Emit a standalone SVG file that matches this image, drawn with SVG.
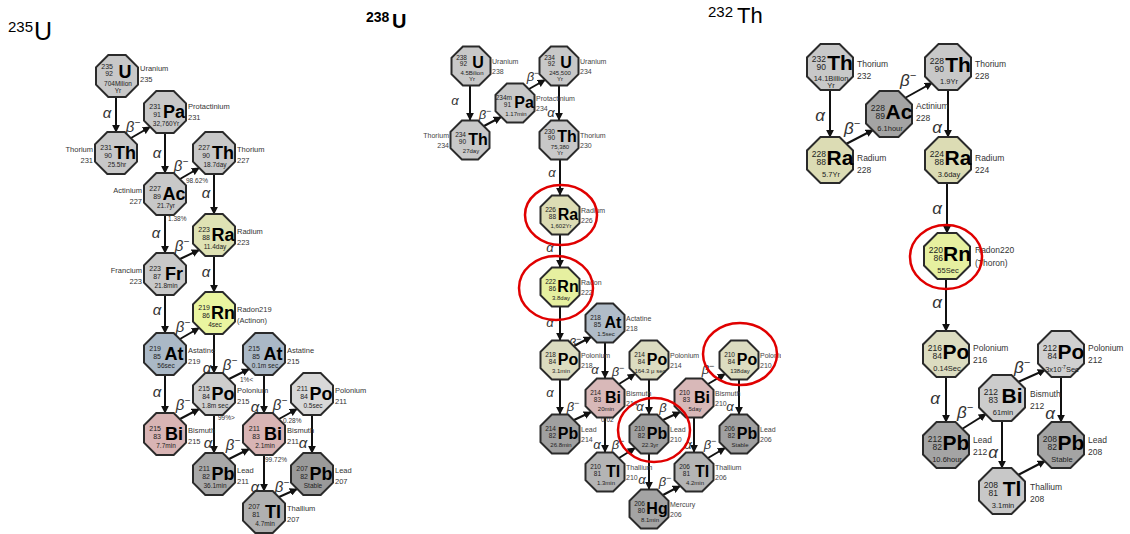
<svg xmlns="http://www.w3.org/2000/svg" width="1130" height="534" viewBox="0 0 1130 534">
<defs>
<style>
text{font-family:"Liberation Sans",Arial,sans-serif}
.m1{font-size:7px;text-anchor:end;fill:#222}
.s1{font-size:18px;font-weight:bold;text-anchor:middle;fill:#000}
.h1{font-size:6.5px;text-anchor:middle;fill:#222}
.l1{font-size:7.5px;fill:#333}
.m2{font-size:6.5px;text-anchor:end;fill:#222}
.s2{font-size:16px;font-weight:bold;text-anchor:middle;fill:#000}
.h2{font-size:6px;text-anchor:middle;fill:#222}
.l2{font-size:7px;fill:#444}
.m3{font-size:8.5px;text-anchor:end;fill:#222}
.s3{font-size:21px;font-weight:bold;text-anchor:middle;fill:#000}
.h3{font-size:7.5px;text-anchor:middle;fill:#222}
.l3{font-size:8.5px;fill:#333}
.e{text-anchor:end}
.g1{font-size:15px;font-style:italic;fill:#333;text-anchor:middle}
.g2{font-size:13px;font-style:italic;fill:#333;text-anchor:middle}
.g3{font-size:17px;font-style:italic;fill:#333;text-anchor:middle}
.p{font-size:6.5px;fill:#333}
.ar{stroke:#111;stroke-width:2;fill:none;marker-end:url(#ah)}
.ring{fill:none;stroke:#e00000;stroke-width:2.5}
</style>
<polygon id="o1" points="-8.7,-21 8.7,-21 21,-8.7 21,8.7 8.7,21 -8.7,21 -21,8.7 -21,-8.7" stroke="#2a2a2a" stroke-width="2"/>
<polygon id="o2" points="-8.1,-19.5 8.1,-19.5 19.5,-8.1 19.5,8.1 8.1,19.5 -8.1,19.5 -19.5,8.1 -19.5,-8.1" stroke="#2a2a2a" stroke-width="2"/>
<polygon id="o3" points="-9.5,-23 9.5,-23 23,-9.5 23,9.5 9.5,23 -9.5,23 -23,9.5 -23,-9.5" stroke="#2a2a2a" stroke-width="2"/>
<marker id="ah" viewBox="0 0 10 10" refX="9" refY="5" markerWidth="4" markerHeight="4" orient="auto"><path d="M0,0L10,5L0,10z" fill="#111"/></marker>
<clipPath id="cp" clipPathUnits="userSpaceOnUse"><rect x="15" y="-12" width="27" height="14"/></clipPath>
</defs>
<rect width="1130" height="534" fill="#fff"/>

<g id="titles">
<text x="8" y="32" font-size="15">235</text><text x="34" y="40" font-size="25">U</text>
<text x="366" y="22" font-size="14" font-weight="bold">238</text><text x="392" y="28" font-size="20" font-weight="bold">U</text>
<text x="708" y="17" font-size="15">232</text><text x="737" y="23" font-size="22">Th</text>
</g>

<g id="connectors">
<line class="ar" x1="116" y1="97" x2="116" y2="132"/>
<line class="ar" x1="131" y1="138" x2="150" y2="127"/>
<line class="ar" x1="165" y1="133" x2="165" y2="173"/>
<line class="ar" x1="180" y1="179" x2="199" y2="168"/>
<line class="ar" x1="214" y1="174" x2="214" y2="214"/>
<line class="ar" x1="165" y1="215" x2="165" y2="253"/>
<line class="ar" x1="180" y1="259" x2="199" y2="250"/>
<line class="ar" x1="214" y1="256" x2="214" y2="292"/>
<line class="ar" x1="165" y1="295" x2="165" y2="333"/>
<line class="ar" x1="180" y1="339" x2="199" y2="328"/>
<line class="ar" x1="214" y1="334" x2="214" y2="373"/>
<line class="ar" x1="229" y1="379" x2="249" y2="369"/>
<line class="ar" x1="165" y1="375" x2="165" y2="413"/>
<line class="ar" x1="180" y1="419" x2="199" y2="409"/>
<line class="ar" x1="214" y1="415" x2="214" y2="453"/>
<line class="ar" x1="264" y1="375" x2="264" y2="413"/>
<line class="ar" x1="279" y1="419" x2="297" y2="409"/>
<line class="ar" x1="229" y1="459" x2="249" y2="449"/>
<line class="ar" x1="312" y1="415" x2="312" y2="453"/>
<line class="ar" x1="264" y1="455" x2="264" y2="491"/>
<line class="ar" x1="279" y1="497" x2="297" y2="489"/>
<text class="g1" x="107" y="118">α</text>
<text class="g1" x="157" y="158">α</text>
<text class="g1" x="206" y="198">α</text>
<text class="g1" x="156" y="238">α</text>
<text class="g1" x="206" y="277">α</text>
<text class="g1" x="157" y="315">α</text>
<text class="g1" x="207" y="373">α</text>
<text class="g1" x="157" y="397">α</text>
<text class="g1" x="255" y="412">α</text>
<text class="g1" x="208" y="448">α</text>
<text class="g1" x="303" y="448">α</text>
<text class="g1" x="255" y="492">α</text>
<text class="g1" x="133" y="132">β<tspan dy="-6" font-size="10">−</tspan></text>
<text class="g1" x="181" y="171">β<tspan dy="-6" font-size="10">−</tspan></text>
<text class="g1" x="182" y="251">β<tspan dy="-6" font-size="10">−</tspan></text>
<text class="g1" x="183" y="332">β<tspan dy="-6" font-size="10">−</tspan></text>
<text class="g1" x="230" y="370">β<tspan dy="-6" font-size="10">−</tspan></text>
<text class="g1" x="183" y="410">β<tspan dy="-6" font-size="10">−</tspan></text>
<text class="g1" x="280" y="410">β<tspan dy="-6" font-size="10">−</tspan></text>
<text class="g1" x="233" y="450">β<tspan dy="-6" font-size="10">−</tspan></text>
<text class="g1" x="282" y="492">β<tspan dy="-6" font-size="10">−</tspan></text>
<text class="p" x="186" y="183">98.62%</text>
<text class="p" x="168" y="221">1.38%</text>
<text class="p" x="240" y="382">1%&lt;</text>
<text class="p" x="218" y="420">99%&gt;</text>
<text class="p" x="283" y="423">0.28%</text>
<text class="p" x="265" y="462">99.72%</text>

<line class="ar" x1="470" y1="86" x2="470" y2="120"/>
<line class="ar" x1="484" y1="126" x2="501" y2="117"/>
<line class="ar" x1="529" y1="89" x2="545" y2="80"/>
<line class="ar" x1="559" y1="86" x2="559" y2="120"/>
<line class="ar" x1="560" y1="160" x2="560" y2="195"/>
<line class="ar" x1="560" y1="235" x2="560" y2="267"/>
<line class="ar" x1="560" y1="307" x2="560" y2="340"/>
<line class="ar" x1="574" y1="346" x2="591" y2="337"/>
<line class="ar" x1="560" y1="380" x2="560" y2="414"/>
<line class="ar" x1="605" y1="343" x2="605" y2="378"/>
<line class="ar" x1="574" y1="420" x2="591" y2="412"/>
<line class="ar" x1="619" y1="384" x2="635" y2="374"/>
<line class="ar" x1="605" y1="418" x2="605" y2="452"/>
<line class="ar" x1="649" y1="380" x2="649" y2="414"/>
<line class="ar" x1="619" y1="458" x2="635" y2="448"/>
<line class="ar" x1="663" y1="420" x2="680" y2="412"/>
<line class="ar" x1="649" y1="454" x2="649" y2="489"/>
<line class="ar" x1="663" y1="495" x2="680" y2="486"/>
<line class="ar" x1="708" y1="384" x2="725" y2="374"/>
<line class="ar" x1="694" y1="418" x2="694" y2="452"/>
<line class="ar" x1="739" y1="380" x2="739" y2="414"/>
<line class="ar" x1="708" y1="458" x2="725" y2="448"/>
<text class="g2" x="455" y="105">α</text>
<text class="g2" x="551" y="117">α</text>
<text class="g2" x="552" y="177">α</text>
<text class="g2" x="550" y="252">α</text>
<text class="g2" x="550" y="327">α</text>
<text class="g2" x="550" y="397">α</text>
<text class="g2" x="595" y="374">α</text>
<text class="g2" x="597" y="449">α</text>
<text class="g2" x="640" y="411">α</text>
<text class="g2" x="642" y="484">α</text>
<text class="g2" x="688" y="449">α</text>
<text class="g2" x="730" y="411">α</text>
<text class="g2" x="485" y="119">β<tspan dy="-5" font-size="9">−</tspan></text>
<text class="g2" x="533" y="81">β<tspan dy="-5" font-size="9">−</tspan></text>
<text class="g2" x="575" y="347">β<tspan dy="-5" font-size="9">−</tspan></text>
<text class="g2" x="573" y="411">β<tspan dy="-5" font-size="9">−</tspan></text>
<text class="g2" x="618" y="376">β<tspan dy="-5" font-size="9">−</tspan></text>
<text class="g2" x="618" y="449">β<tspan dy="-5" font-size="9">−</tspan></text>
<text class="g2" x="663" y="412">β</text>
<text class="g2" x="665" y="486">β<tspan dy="-5" font-size="9">−</tspan></text>
<text class="g2" x="708" y="374">β<tspan dy="-5" font-size="9">−</tspan></text>
<text class="g2" x="710" y="449">β<tspan dy="-5" font-size="9">−</tspan></text>
<text class="p" x="601" y="422">0.02</text>

<line class="ar" x1="830" y1="90" x2="830" y2="137"/>
<line class="ar" x1="846" y1="144" x2="873" y2="130"/>
<line class="ar" x1="905" y1="98" x2="932" y2="83"/>
<line class="ar" x1="948" y1="90" x2="948" y2="137"/>
<line class="ar" x1="947" y1="183" x2="947" y2="233"/>
<line class="ar" x1="946" y1="279" x2="946" y2="331"/>
<line class="ar" x1="946" y1="377" x2="946" y2="422"/>
<line class="ar" x1="962" y1="429" x2="986" y2="414"/>
<line class="ar" x1="1018" y1="382" x2="1045" y2="370"/>
<line class="ar" x1="1061" y1="377" x2="1061" y2="422"/>
<line class="ar" x1="1002" y1="421" x2="1002" y2="468"/>
<line class="ar" x1="1018" y1="475" x2="1045" y2="461"/>
<text class="g3" x="820" y="121">α</text>
<text class="g3" x="937" y="133">α</text>
<text class="g3" x="937" y="214">α</text>
<text class="g3" x="937" y="308">α</text>
<text class="g3" x="935" y="404">α</text>
<text class="g3" x="1050" y="419">α</text>
<text class="g3" x="993" y="458">α</text>
<text class="g3" x="852" y="134">β<tspan dy="-7" font-size="11">−</tspan></text>
<text class="g3" x="908" y="86">β<tspan dy="-7" font-size="11">−</tspan></text>
<text class="g3" x="965" y="418">β<tspan dy="-7" font-size="11">−</tspan></text>
<text class="g3" x="1022" y="373">β<tspan dy="-7" font-size="11">−</tspan></text>
</g>

<g id="u235" transform="translate(117,76)"><use href="#o1" fill="#c8c8c8"/><text class="m1" x="-4" y="-7">235</text><text class="m1" x="-4" y="0">92</text><text class="s1" x="8" y="2">U</text><text class="h1" x="1" y="10">704Milion</text><text class="h1" x="1" y="17">Yr</text><text class="l1" x="23" y="-5">Uranium</text><text class="l1" x="23" y="6">235</text></g>
<g id="pa231" transform="translate(165,112)"><use href="#o1" fill="#c8c8c8"/><text class="m1" x="-4" y="-3">231</text><text class="m1" x="-4" y="5">91</text><text class="s1" x="9" y="6">Pa</text><text class="h1" x="1" y="14">32,760Yr</text><text class="l1" x="23" y="-3">Protactinium</text><text class="l1" x="23" y="8">231</text></g>
<g id="th231" transform="translate(116,153)"><use href="#o1" fill="#c8c8c8"/><text class="m1" x="-4" y="-3">231</text><text class="m1" x="-4" y="5">90</text><text class="s1" x="9" y="6">Th</text><text class="h1" x="1" y="14">25.5hr</text><text class="l1 e" x="-23" y="-1">Thorium</text><text class="l1 e" x="-23" y="10">231</text></g>
<g id="th227" transform="translate(214,153)"><use href="#o1" fill="#c8c8c8"/><text class="m1" x="-4" y="-3">227</text><text class="m1" x="-4" y="5">90</text><text class="s1" x="9" y="6">Th</text><text class="h1" x="1" y="14">18.7day</text><text class="l1" x="23" y="-1">Thorium</text><text class="l1" x="23" y="10">227</text></g>
<g id="ac227" transform="translate(165,194)"><use href="#o1" fill="#c8c8c8"/><text class="m1" x="-4" y="-3">227</text><text class="m1" x="-4" y="5">89</text><text class="s1" x="9" y="6">Ac</text><text class="h1" x="1" y="14">21.7yr</text><text class="l1 e" x="-23" y="-1">Actinium</text><text class="l1 e" x="-23" y="10">227</text></g>
<g id="ra223" transform="translate(214,235)"><use href="#o1" fill="#dfe2b4"/><text class="m1" x="-4" y="-3">223</text><text class="m1" x="-4" y="5">88</text><text class="s1" x="9" y="6">Ra</text><text class="h1" x="1" y="14">11.4day</text><text class="l1" x="23" y="-1">Radium</text><text class="l1" x="23" y="10">223</text></g>
<g id="fr223" transform="translate(165,274)"><use href="#o1" fill="#c8c8c8"/><text class="m1" x="-4" y="-3">223</text><text class="m1" x="-4" y="5">87</text><text class="s1" x="9" y="6">Fr</text><text class="h1" x="1" y="14">21.8min</text><text class="l1 e" x="-23" y="-1">Francium</text><text class="l1 e" x="-23" y="10">223</text></g>
<g id="rn219" transform="translate(214,313)"><use href="#o1" fill="#eaf5a0"/><text class="m1" x="-4" y="-3">219</text><text class="m1" x="-4" y="5">86</text><text class="s1" x="9" y="6">Rn</text><text class="h1" x="1" y="14">4sec</text><text class="l1" x="23" y="-1">Radon219</text><text class="l1" x="23" y="10">(Actinon)</text></g>
<g id="at219" transform="translate(165,354)"><use href="#o1" fill="#aab8c6"/><text class="m1" x="-4" y="-3">219</text><text class="m1" x="-4" y="5">85</text><text class="s1" x="9" y="6">At</text><text class="h1" x="1" y="14">56sec</text><text class="l1" x="23" y="-1">Astatine</text><text class="l1" x="23" y="10">219</text></g>
<g id="at215" transform="translate(264,354)"><use href="#o1" fill="#aab8c6"/><text class="m1" x="-4" y="-3">215</text><text class="m1" x="-4" y="5">85</text><text class="s1" x="9" y="6">At</text><text class="h1" x="1" y="14">0.1m sec</text><text class="l1" x="23" y="-1">Astatine</text><text class="l1" x="23" y="10">215</text></g>
<g id="po215" transform="translate(214,394)"><use href="#o1" fill="#cdcdcd"/><text class="m1" x="-4" y="-3">215</text><text class="m1" x="-4" y="5">84</text><text class="s1" x="9" y="6">Po</text><text class="h1" x="1" y="14">1.8m sec</text><text class="l1" x="23" y="-1">Polonium</text><text class="l1" x="23" y="10">215</text></g>
<g id="po211" transform="translate(312,394)"><use href="#o1" fill="#d8d8d8"/><text class="m1" x="-4" y="-3">211</text><text class="m1" x="-4" y="5">84</text><text class="s1" x="9" y="6">Po</text><text class="h1" x="1" y="14">0.5sec</text><text class="l1" x="23" y="-1">Polonium</text><text class="l1" x="23" y="10">211</text></g>
<g id="bi215" transform="translate(165,434)"><use href="#o1" fill="#d8b4b4"/><text class="m1" x="-4" y="-3">215</text><text class="m1" x="-4" y="5">83</text><text class="s1" x="9" y="6">Bi</text><text class="h1" x="1" y="14">7.7min</text><text class="l1" x="23" y="-1">Bismuth</text><text class="l1" x="23" y="10">215</text></g>
<g id="bi211" transform="translate(264,434)"><use href="#o1" fill="#d8b4b4"/><text class="m1" x="-4" y="-3">211</text><text class="m1" x="-4" y="5">83</text><text class="s1" x="9" y="6">Bi</text><text class="h1" x="1" y="14">2.1min</text><text class="l1" x="23" y="-1">Bismuth</text><text class="l1" x="23" y="10">211</text></g>
<g id="pb211" transform="translate(214,474)"><use href="#o1" fill="#a8a8a8"/><text class="m1" x="-4" y="-3">211</text><text class="m1" x="-4" y="5">82</text><text class="s1" x="9" y="6">Pb</text><text class="h1" x="1" y="14">36.1min</text><text class="l1" x="23" y="-1">Lead</text><text class="l1" x="23" y="10">211</text></g>
<g id="pb207" transform="translate(312,474)"><use href="#o1" fill="#9a9a9a"/><text class="m1" x="-4" y="-3">207</text><text class="m1" x="-4" y="5">82</text><text class="s1" x="9" y="6">Pb</text><text class="h1" x="1" y="14">Stable</text><text class="l1" x="23" y="-1">Lead</text><text class="l1" x="23" y="10">207</text></g>
<g id="tl207" transform="translate(264,512)"><use href="#o1" fill="#b0b0b0"/><text class="m1" x="-4" y="-3">207</text><text class="m1" x="-4" y="5">81</text><text class="s1" x="9" y="6">Tl</text><text class="h1" x="1" y="14">4.7min</text><text class="l1" x="23" y="-1">Thallium</text><text class="l1" x="23" y="10">207</text></g>

<g id="u238" transform="translate(471,66)"><use href="#o2" fill="#c8c8c8"/><text class="m2" x="-4" y="-6">238</text><text class="m2" x="-4" y="0">92</text><text class="s2" x="7" y="2">U</text><text class="h2" x="1" y="9">4.5Bilion</text><text class="h2" x="1" y="15">Yr</text><text class="l2" x="21" y="-2">Uranium</text><text class="l2" x="21" y="8">238</text></g>
<g id="pa234" transform="translate(515,103)"><use href="#o2" fill="#c8c8c8"/><text class="m2" x="-3" y="-3">234m</text><text class="m2" x="-4" y="4">91</text><text class="s2" x="9" y="5">Pa</text><text class="h2" x="1" y="13">1.17min</text><text class="l2" x="21" y="-2">Protactinium</text><text class="l2" x="21" y="8">234</text></g>
<g id="u234" transform="translate(559,66)"><use href="#o2" fill="#c8c8c8"/><text class="m2" x="-4" y="-6">234</text><text class="m2" x="-4" y="0">92</text><text class="s2" x="7" y="2">U</text><text class="h2" x="1" y="9">245,500</text><text class="h2" x="1" y="15">Yr</text><text class="l2" x="21" y="-2">Uranium</text><text class="l2" x="21" y="8">234</text></g>
<g id="th234" transform="translate(470,140)"><use href="#o2" fill="#c8c8c8"/><text class="m2" x="-4" y="-3">234</text><text class="m2" x="-4" y="4">90</text><text class="s2" x="8" y="5">Th</text><text class="h2" x="1" y="13">27day</text><text class="l2 e" x="-21" y="-2">Thorium</text><text class="l2 e" x="-21" y="8">234</text></g>
<g id="th230" transform="translate(559,140)"><use href="#o2" fill="#c8c8c8"/><text class="m2" x="-4" y="-6">230</text><text class="m2" x="-4" y="0">90</text><text class="s2" x="8" y="2">Th</text><text class="h2" x="1" y="9">75,380</text><text class="h2" x="1" y="15">Yr</text><text class="l2" x="21" y="-2">Thorium</text><text class="l2" x="21" y="8">230</text></g>
<g id="ra226" transform="translate(560,215)"><use href="#o2" fill="#dcdcb4"/><text class="m2" x="-4" y="-3">226</text><text class="m2" x="-4" y="4">88</text><text class="s2" x="8" y="5">Ra</text><text class="h2" x="1" y="13">1,602Yr</text><text class="l2" x="21" y="-2">Radium</text><text class="l2" x="21" y="8">226</text></g>
<g id="rn222" transform="translate(560,287)"><use href="#o2" fill="#e6f0a0"/><text class="m2" x="-4" y="-3">222</text><text class="m2" x="-4" y="4">86</text><text class="s2" x="8" y="5">Rn</text><text class="h2" x="1" y="13">3.8day</text><text class="l2" x="21" y="-2">Radon</text><text class="l2" x="21" y="8">222</text></g>
<g id="at218" transform="translate(605,323)"><use href="#o2" fill="#b0bcc8"/><text class="m2" x="-4" y="-3">218</text><text class="m2" x="-4" y="4">85</text><text class="s2" x="8" y="5">At</text><text class="h2" x="1" y="13">1.5sec</text><text class="l2" x="21" y="-2">Actatine</text><text class="l2" x="21" y="8">218</text></g>
<g id="po218" transform="translate(560,360)"><use href="#o2" fill="#dcdcc0"/><text class="m2" x="-4" y="-3">218</text><text class="m2" x="-4" y="4">84</text><text class="s2" x="8" y="5">Po</text><text class="h2" x="1" y="13">3.1min</text><text class="l2" x="21" y="-2">Polonium</text><text class="l2" x="21" y="8">218</text></g>
<g id="po214" transform="translate(649,360)"><use href="#o2" fill="#dcdcc0"/><text class="m2" x="-4" y="-3">214</text><text class="m2" x="-4" y="4">84</text><text class="s2" x="8" y="5">Po</text><text class="h2" x="1" y="13">164.3 μ sec</text><text class="l2" x="21" y="-2">Polonium</text><text class="l2" x="21" y="8">214</text></g>
<g id="po210" transform="translate(739,360)"><use href="#o2" fill="#dcdcc0"/><text class="m2" x="-4" y="-3">210</text><text class="m2" x="-4" y="4">84</text><text class="s2" x="8" y="5">Po</text><text class="h2" x="1" y="13">138day</text><text class="l2" x="21" y="-2" clip-path="url(#cp)">Polonium</text><text class="l2" x="21" y="8">210</text></g>
<g id="bi214" transform="translate(605,398)"><use href="#o2" fill="#d8b8b8"/><text class="m2" x="-4" y="-3">214</text><text class="m2" x="-4" y="4">83</text><text class="s2" x="8" y="5">Bi</text><text class="h2" x="1" y="13">20min</text><text class="l2" x="21" y="-2">Bismuth</text><text class="l2" x="21" y="8">214</text></g>
<g id="bi210" transform="translate(694,398)"><use href="#o2" fill="#d8b8b8"/><text class="m2" x="-4" y="-3">210</text><text class="m2" x="-4" y="4">83</text><text class="s2" x="8" y="5">Bi</text><text class="h2" x="1" y="13">5day</text><text class="l2" x="21" y="-2">Bismuth</text><text class="l2" x="21" y="8">210</text></g>
<g id="pb214" transform="translate(560,434)"><use href="#o2" fill="#a0a0a0"/><text class="m2" x="-4" y="-3">214</text><text class="m2" x="-4" y="4">82</text><text class="s2" x="8" y="5">Pb</text><text class="h2" x="1" y="13">26.8min</text><text class="l2" x="21" y="-2">Lead</text><text class="l2" x="21" y="8">214</text></g>
<g id="pb210" transform="translate(649,434)"><use href="#o2" fill="#a0a0a0"/><text class="m2" x="-4" y="-3">210</text><text class="m2" x="-4" y="4">82</text><text class="s2" x="8" y="5">Pb</text><text class="h2" x="1" y="13">22.3yr</text><text class="l2" x="21" y="-2">Lead</text><text class="l2" x="21" y="8">210</text></g>
<g id="pb206" transform="translate(739,434)"><use href="#o2" fill="#a0a0a0"/><text class="m2" x="-4" y="-3">206</text><text class="m2" x="-4" y="4">82</text><text class="s2" x="8" y="5">Pb</text><text class="h2" x="1" y="13">Stable</text><text class="l2" x="21" y="-2">Lead</text><text class="l2" x="21" y="8">206</text></g>
<g id="tl210" transform="translate(605,472)"><use href="#o2" fill="#b4b4b4"/><text class="m2" x="-4" y="-3">210</text><text class="m2" x="-4" y="4">81</text><text class="s2" x="8" y="5">Tl</text><text class="h2" x="1" y="13">1.3min</text><text class="l2" x="21" y="-2">Thallium</text><text class="l2" x="21" y="8">210</text></g>
<g id="tl206" transform="translate(694,472)"><use href="#o2" fill="#b4b4b4"/><text class="m2" x="-4" y="-3">206</text><text class="m2" x="-4" y="4">81</text><text class="s2" x="8" y="5">Tl</text><text class="h2" x="1" y="13">4.2min</text><text class="l2" x="21" y="-2">Thallium</text><text class="l2" x="21" y="8">206</text></g>
<g id="hg206" transform="translate(649,509)"><use href="#o2" fill="#a4a4a4"/><text class="m2" x="-4" y="-3">206</text><text class="m2" x="-4" y="4">80</text><text class="s2" x="8" y="5">Hg</text><text class="h2" x="1" y="13">8.1min</text><text class="l2" x="21" y="-2">Mercury</text><text class="l2" x="21" y="8">206</text></g>

<g id="th232" transform="translate(830,67)"><use href="#o3" fill="#c8c8c8"/><text class="m3" x="-4" y="-5">232</text><text class="m3" x="-4" y="3">90</text><text class="s3" x="10" y="3">Th</text><text class="h3" x="1" y="14">14.1Billion</text><text class="h3" x="1" y="21">Yr</text><text class="l3" x="27" y="0">Thorium</text><text class="l3" x="27" y="12">232</text></g>
<g id="ac228" transform="translate(889,114)"><use href="#o3" fill="#a4a4a4"/><text class="m3" x="-4" y="-3">228</text><text class="m3" x="-4" y="5">89</text><text class="s3" x="10" y="5">Ac</text><text class="h3" x="1" y="17">6.1hour</text><text class="l3" x="27" y="-5">Actinium</text><text class="l3" x="27" y="7">228</text></g>
<g id="th228" transform="translate(948,67)"><use href="#o3" fill="#c8c8c8"/><text class="m3" x="-4" y="-3">228</text><text class="m3" x="-4" y="5">90</text><text class="s3" x="10" y="5">Th</text><text class="h3" x="1" y="17">1.9Yr</text><text class="l3" x="27" y="0">Thorium</text><text class="l3" x="27" y="12">228</text></g>
<g id="ra228" transform="translate(830,160)"><use href="#o3" fill="#dcdcb4"/><text class="m3" x="-4" y="-3">228</text><text class="m3" x="-4" y="5">88</text><text class="s3" x="10" y="5">Ra</text><text class="h3" x="1" y="17">5.7Yr</text><text class="l3" x="27" y="1">Radium</text><text class="l3" x="27" y="13">228</text></g>
<g id="ra224" transform="translate(948,160)"><use href="#o3" fill="#dcdcb4"/><text class="m3" x="-4" y="-3">224</text><text class="m3" x="-4" y="5">88</text><text class="s3" x="10" y="5">Ra</text><text class="h3" x="1" y="17">3.6day</text><text class="l3" x="27" y="1">Radium</text><text class="l3" x="27" y="13">224</text></g>
<g id="rn220" transform="translate(947,256)"><use href="#o3" fill="#e6f0a0"/><text class="m3" x="-4" y="-3">220</text><text class="m3" x="-4" y="5">86</text><text class="s3" x="10" y="5">Rn</text><text class="h3" x="1" y="17">55Sec</text><text class="l3" x="28" y="-3">Radon220</text><text class="l3" x="28" y="10">(Thoron)</text></g>
<g id="po216" transform="translate(946,354)"><use href="#o3" fill="#dcdcc0"/><text class="m3" x="-4" y="-3">216</text><text class="m3" x="-4" y="5">84</text><text class="s3" x="10" y="5">Po</text><text class="h3" x="1" y="17">0.14Sec</text><text class="l3" x="27" y="-3">Polonium</text><text class="l3" x="27" y="9">216</text></g>
<g id="po212" transform="translate(1061,354)"><use href="#o3" fill="#d0d0d0"/><text class="m3" x="-4" y="-3">212</text><text class="m3" x="-4" y="5">84</text><text class="s3" x="10" y="5">Po</text><text class="h3" x="1" y="17.5">3x10<tspan font-size="5" dy="-2.5">-7</tspan><tspan dy="2.5">Sec</tspan></text><text class="l3" x="27" y="-3">Polonium</text><text class="l3" x="27" y="9">212</text></g>
<g id="bi212" transform="translate(1002,398)"><use href="#o3" fill="#cccccc"/><text class="m3" x="-4" y="-3">212</text><text class="m3" x="-4" y="5">83</text><text class="s3" x="10" y="5">Bi</text><text class="h3" x="1" y="17">61min</text><text class="l3" x="28" y="-1">Bismuth</text><text class="l3" x="28" y="11">212</text></g>
<g id="pb212" transform="translate(946,445)"><use href="#o3" fill="#a4a4a4"/><text class="m3" x="-4" y="-3">212</text><text class="m3" x="-4" y="5">82</text><text class="s3" x="10" y="5">Pb</text><text class="h3" x="1" y="17">10.6hour</text><text class="l3" x="27" y="-2">Lead</text><text class="l3" x="27" y="10">212</text></g>
<g id="pb208" transform="translate(1061,445)"><use href="#o3" fill="#a4a4a4"/><text class="m3" x="-4" y="-3">208</text><text class="m3" x="-4" y="5">82</text><text class="s3" x="10" y="5">Pb</text><text class="h3" x="1" y="17">Stable</text><text class="l3" x="27" y="-2">Lead</text><text class="l3" x="27" y="10">208</text></g>
<g id="tl208" transform="translate(1002,491)"><use href="#o3" fill="#c8c8c8"/><text class="m3" x="-4" y="-3">208</text><text class="m3" x="-4" y="5">81</text><text class="s3" x="10" y="5">Tl</text><text class="h3" x="1" y="17">3.1min</text><text class="l3" x="28" y="-1">Thallium</text><text class="l3" x="28" y="11">208</text></g>

<g id="rings">
<ellipse class="ring" cx="561" cy="215" rx="36" ry="30"/>
<ellipse class="ring" cx="556" cy="288" rx="37" ry="32"/>
<ellipse class="ring" cx="654" cy="430" rx="36" ry="32"/>
<ellipse class="ring" cx="740" cy="354" rx="37" ry="31"/>
<ellipse class="ring" cx="946" cy="257" rx="36" ry="32"/>
</g>
</svg>
